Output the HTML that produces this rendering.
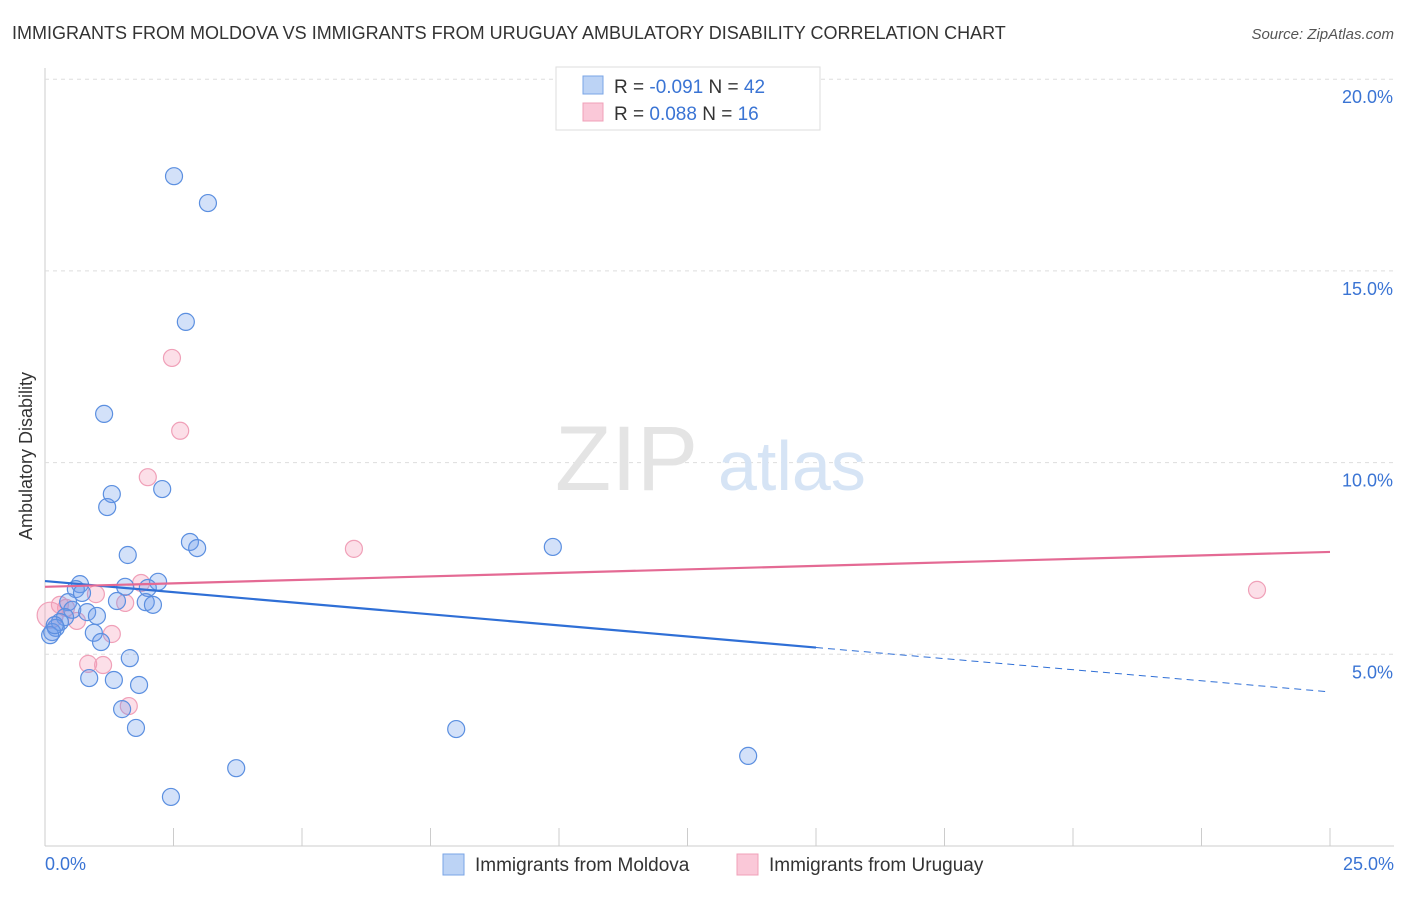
<!DOCTYPE html>
<html><head><meta charset="utf-8"><style>
body{margin:0;background:#fff;font-family:"Liberation Sans",sans-serif;}
svg text{font-family:"Liberation Sans",sans-serif;}
</style></head><body>
<svg id="c" width="1406" height="892">
<text x="12" y="39" font-size="18" fill="#333">IMMIGRANTS FROM MOLDOVA VS IMMIGRANTS FROM URUGUAY AMBULATORY DISABILITY CORRELATION CHART</text>
<text x="1394" y="39" font-size="15" fill="#555" font-style="italic" text-anchor="end">Source: ZipAtlas.com</text>
<text x="32" y="456" font-size="18" fill="#333" text-anchor="middle" transform="rotate(-90 32 456)">Ambulatory Disability</text>
<g id="grid"></g>
<text x="555" y="490" font-size="92" fill="#e4e4e4" font-family="Liberation Serif">ZIP</text>
<text x="718" y="490" font-size="70" fill="#d6e4f5">atlas</text>
<g id="pts"></g>
<g id="lines"></g>
<g>
<rect x="556" y="67" width="264" height="63" fill="#fff" stroke="#ddd"/>
<rect x="583" y="76" width="20" height="18" fill="#bcd3f5" stroke="#7aa4e6"/>
<rect x="583" y="103" width="20" height="18" fill="#fac8d8" stroke="#f0a0b8"/>
<text x="614" y="93" font-size="19" fill="#333">R = <tspan fill="#3a74d4">-0.091</tspan>   N = <tspan fill="#3a74d4">42</tspan></text>
<text x="614" y="120" font-size="19" fill="#333">R =  <tspan fill="#3a74d4">0.088</tspan>   N =  <tspan fill="#3a74d4">16</tspan></text>
</g>
<g>
<rect x="443" y="854" width="21" height="21" fill="#bcd3f5" stroke="#7aa4e6"/>
<text x="475" y="871" font-size="19" fill="#333">Immigrants from Moldova</text>
<rect x="737" y="854" width="21" height="21" fill="#fac8d8" stroke="#f0a0b8"/>
<text x="769" y="871" font-size="19" fill="#333">Immigrants from Uruguay</text>
</g>
</svg>
<script>
const blueX=[2.51,3.17,2.74,1.15,1.30,1.21,2.28,2.82,2.96,1.61,9.88,0.68,0.60,0.72,1.56,2.20,2.00,1.40,1.96,2.10,0.45,0.53,0.82,1.01,0.39,0.29,0.21,0.14,0.10,0.95,1.09,1.65,0.86,1.34,1.83,1.50,1.77,8.00,3.72,13.68,2.45,0.19];
const blueY=[17.47,16.77,13.67,11.27,9.18,8.84,9.31,7.93,7.77,7.59,7.80,6.83,6.70,6.60,6.76,6.89,6.73,6.39,6.36,6.29,6.36,6.16,6.10,6.00,5.97,5.84,5.69,5.58,5.50,5.56,5.32,4.90,4.38,4.33,4.20,3.57,3.08,3.05,2.03,2.35,1.28,5.76];
const pinkX=[2.47,2.63,2.00,6.01,23.58,1.87,0.99,1.56,0.41,0.62,1.30,0.84,1.13,1.63,0.10,0.29];
const pinkY=[12.73,10.83,9.62,7.75,6.68,6.86,6.57,6.34,6.21,5.87,5.53,4.75,4.72,3.65,6.02,6.29];
const yTicks=[5,10,15,20];
const yTickLabels=["5.0%","10.0%","15.0%","20.0%"];
const xTicks=[0,2.5,5,7.5,10,12.5,15,17.5,20,22.5,25];
const blueTrend=[6.91,4.02];
const pinkTrend=[6.76,7.67];
const NS="http://www.w3.org/2000/svg";
const X=v=>45+v*1285/25, Y=v=>846-v*191.7/5;
function mk(t,a,p){const e=document.createElementNS(NS,t);for(const k in a)e.setAttribute(k,a[k]);p.appendChild(e);return e;}
const g=document.getElementById('grid');
const ax=mk('line',{x1:45,y1:68,x2:45,y2:846,stroke:'#ccc'},g);


const bx=mk('line',{x1:45,y1:846,x2:1394,y2:846,stroke:'#ccc'},g);


yTicks.forEach((t,i)=>{
 const l=mk('line',{x1:45,y1:Y(t),x2:1394,y2:Y(t),stroke:'#ddd','stroke-dasharray':'4,4'},g);
 
 
 const tx=mk('text',{x:1393,y:Y(t)+24,'font-size':18,fill:'#3a74d4','text-anchor':'end'},g);
 tx.textContent=yTickLabels[i];
 
 
});
xTicks.forEach(t=>{
 const l=mk('line',{x1:X(t),y1:828,x2:X(t),y2:846,stroke:'#ccc'},g);
 
 
});
const x0=mk('text',{x:45,y:870,'font-size':18,fill:'#3a74d4'},g);x0.textContent='0.0%';


const x1=mk('text',{x:1394,y:870,'font-size':18,fill:'#3a74d4','text-anchor':'end'},g);x1.textContent='25.0%';


const p=document.getElementById('pts');
pinkX.forEach((v,i)=>{
 const c=mk('circle',{cx:X(v),cy:Y(pinkY[i]),r:i==14?13:8.5,fill:'rgba(245,150,180,0.3)',stroke:'#f0a0b8','stroke-width':1.2},p);
 
 
});
blueX.forEach((v,i)=>{
 const c=mk('circle',{cx:X(v),cy:Y(blueY[i]),r:8.5,fill:'rgba(110,155,235,0.3)',stroke:'#5b8fe0','stroke-width':1.2},p);
 
 
});
const L=document.getElementById('lines');
const bs=(blueTrend[1]-blueTrend[0])/25;
const b1=mk('line',{x1:X(0),y1:Y(blueTrend[0]),x2:X(15),y2:Y(blueTrend[0]+bs*15),stroke:'#2f6fd6','stroke-width':2.2},L);


const b2=mk('line',{x1:X(15),y1:Y(blueTrend[0]+bs*15),x2:X(25),y2:Y(blueTrend[1]),stroke:'#2f6fd6','stroke-width':1,'stroke-dasharray':'7,5'},L);


const p1=mk('line',{x1:X(0),y1:Y(pinkTrend[0]),x2:X(25),y2:Y(pinkTrend[1]),stroke:'#e46a94','stroke-width':2.2},L);


</script>
</body></html>
